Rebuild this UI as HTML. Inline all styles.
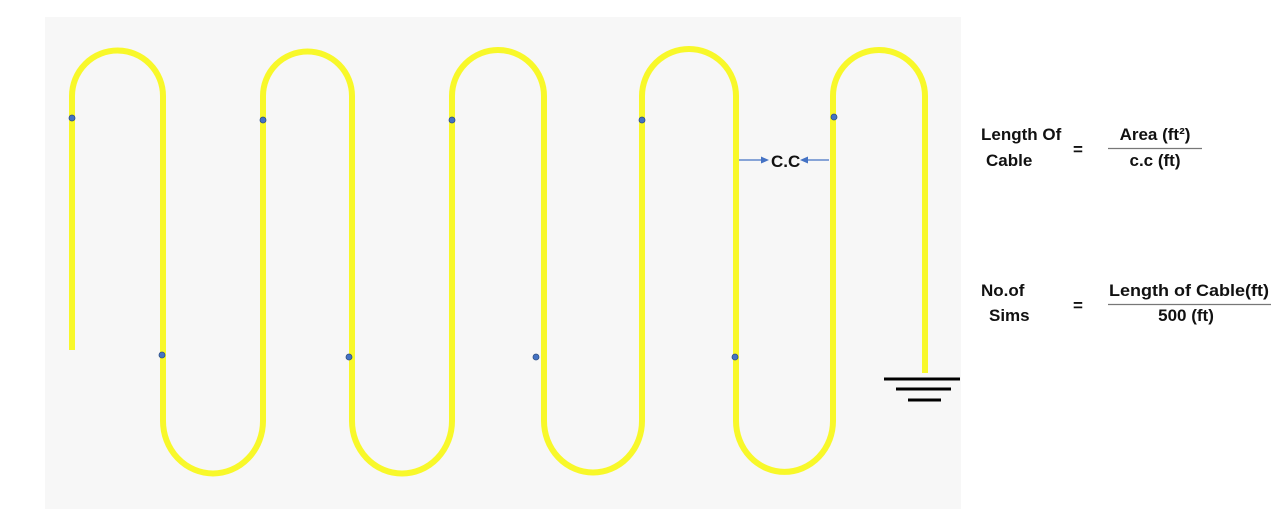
<!DOCTYPE html>
<html><head><meta charset="utf-8"><style>
html,body{margin:0;padding:0;background:#fff;width:1275px;height:529px;overflow:hidden}
svg{display:block}
text{font-family:"Liberation Sans",sans-serif;font-weight:bold;fill:#111}
</style></head><body>
<svg width="1275" height="529" viewBox="0 0 1275 529">
<rect x="45" y="17" width="916" height="492" fill="#f7f7f7"/>
<g id="cable"></g>
<g id="dots"></g>
<g stroke="#000" stroke-width="3">
<line x1="884" y1="379" x2="960" y2="379"/>
<line x1="896" y1="389" x2="951" y2="389"/>
<line x1="908" y1="400" x2="941" y2="400"/>
</g>
<g>
<line x1="739" y1="160" x2="762" y2="160" stroke="#4472c4" stroke-width="1.3"/>
<polygon points="769,160 761,156.5 761,163.5" fill="#4472c4"/>
<line x1="829" y1="160" x2="808" y2="160" stroke="#4472c4" stroke-width="1.3"/>
<polygon points="800,160 808,156.5 808,163.5" fill="#4472c4"/>
<text x="771" y="167" font-size="17">C.C</text>
</g>
<g font-size="17">
<text x="981" y="140">Length Of</text>
<text x="986" y="166">Cable</text>
<text x="1073" y="155">=</text>
<text x="1155" y="140" text-anchor="middle">Area (ft²)</text>
<line x1="1108" y1="148.5" x2="1202" y2="148.5" stroke="#777" stroke-width="1.3"/>
<text x="1155" y="166" text-anchor="middle">c.c (ft)</text>
</g>
<g font-size="17">
<text x="981" y="296">No.of</text>
<text x="989" y="321">Sims</text>
<text x="1073" y="311">=</text>
<text x="1189" y="296" text-anchor="middle" textLength="160" lengthAdjust="spacingAndGlyphs">Length of Cable(ft)</text>
<line x1="1108" y1="304.5" x2="1271" y2="304.5" stroke="#777" stroke-width="1.3"/>
<text x="1186" y="321" text-anchor="middle">500 (ft)</text>
</g>
</svg>
<script>
const runX = [72, 163, 263, 352, 452, 544, 642, 736, 833, 925];
const topY = 96, botY = 421, startEnd = 350, finalEnd = 373;
const dotPts = [[72,118],[263,120],[452,120],[642,120],[834,117],[162,355],[349,357],[536,357],[735,357]];
const ns = "http://www.w3.org/2000/svg";
let d = "M" + runX[0] + " " + startEnd + " L" + runX[0] + " " + topY;
const last = runX.length - 1;
for (let i = 1; i <= last; i++) {
  const r = (runX[i] - runX[i-1]) / 2;
  if (i % 2 === 1) {
    d += " A" + r + " " + r + " 0 0 1 " + runX[i] + " " + topY + " L" + runX[i] + " " + (i === last ? finalEnd : botY);
  } else {
    d += " A" + r + " " + (r*1.05) + " 0 0 0 " + runX[i] + " " + botY + " L" + runX[i] + " " + topY;
  }
}
const p = document.createElementNS(ns, "path");
p.setAttribute("d", d);
p.setAttribute("fill", "none");
p.setAttribute("stroke", "#f8f82a");
p.setAttribute("stroke-width", "6");


document.getElementById("cable").appendChild(p);
dotPts.forEach(pt => {
  const c = document.createElementNS(ns, "circle");
  c.setAttribute("cx", pt[0]); c.setAttribute("cy", pt[1]); c.setAttribute("r", "3");
  c.setAttribute("fill", "#4472c4"); c.setAttribute("stroke", "#2f4f80"); c.setAttribute("stroke-width", "0.8");
  
  
  document.getElementById("dots").appendChild(c);
});
</script>
</body></html>
